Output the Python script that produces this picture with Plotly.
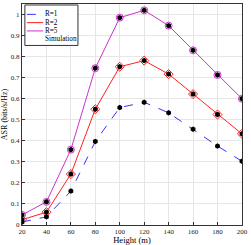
import plotly.graph_objects as go

heights = [20, 40, 60, 80, 100, 120, 140, 160, 180, 200]
asr_r1 = [0.014, 0.039, 0.161, 0.397, 0.558, 0.583, 0.533, 0.455, 0.375, 0.303]
asr_r2 = [0.025, 0.061, 0.242, 0.550, 0.752, 0.781, 0.717, 0.622, 0.525, 0.433]
asr_r5 = [0.048, 0.110, 0.358, 0.745, 0.985, 1.020, 0.947, 0.830, 0.713, 0.600]
sim_x = heights * 3
sim_y = asr_r1 + asr_r2 + asr_r5
y_ticks = [0, 0.1, 0.2, 0.3, 0.4, 0.5, 0.6, 0.7, 0.8, 0.9, 1.0]
y_ticktext = ["0", "0.1", "0.2", "0.3", "0.4", "0.5", "0.6", "0.7", "0.8", "0.9", "1"]
legend_names = ["R=1", "R=2", "R=5", "Simulation"]

font = "Liberation Serif"
c1, c2, c5 = "#3333ff", "#ff2020", "#cc33cc"
fig = go.Figure()
fig.add_trace(go.Scatter(x=heights, y=asr_r1, mode="lines", name="R=1", showlegend=False,
                         line=dict(color=c1, width=1, dash="dash")))
fig.add_trace(go.Scatter(x=heights, y=asr_r2, mode="lines+markers", name="R=2", showlegend=False,
                         line=dict(color=c2, width=1),
                         marker=dict(symbol="diamond-open", size=7, color=c2, line=dict(width=1))))
fig.add_trace(go.Scatter(x=heights, y=asr_r5, mode="lines+markers", name="R=5", showlegend=False,
                         line=dict(color=c5, width=1),
                         marker=dict(symbol="circle-open", size=7, color=c5, line=dict(width=1))))
fig.add_trace(go.Scatter(x=sim_x, y=sim_y, mode="markers", name="Simulation", showlegend=False,
                         marker=dict(symbol="hexagon", size=5.5, color="black")))

# ---- custom compact legend (plot-area pixel coordinates on an overlay axis) ----
ent_y = [10.5, 18.9, 27.3, 35.7]
lx0, lx1, tx = 5, 22, 23
shapes = [dict(type="rect", xref="x2", yref="y2", x0=3, x1=58, y0=1, y1=42,
               line=dict(color="#333333", width=1), fillcolor="white", layer="above")]
styles = [(c1, "dash"), (c2, "solid"), (c5, "solid")]
for yy, (col, dash) in zip(ent_y[:3], styles):
    shapes.append(dict(type="line", xref="x2", yref="y2", x0=lx0, x1=lx1, y0=yy, y1=yy,
                       line=dict(color=col, width=1, dash=dash), layer="above"))
fig.update_layout(shapes=shapes)
mx = (lx0 + lx1) / 2
fig.add_trace(go.Scatter(x=[mx], y=[ent_y[1]], xaxis="x2", yaxis="y2", mode="markers", showlegend=False,
                         marker=dict(symbol="diamond-open", size=6, color=c2, line=dict(width=1)), hoverinfo="skip"))
fig.add_trace(go.Scatter(x=[mx], y=[ent_y[2]], xaxis="x2", yaxis="y2", mode="markers", showlegend=False,
                         marker=dict(symbol="circle-open", size=6, color=c5, line=dict(width=1)), hoverinfo="skip"))
fig.add_trace(go.Scatter(x=[mx], y=[ent_y[3]], xaxis="x2", yaxis="y2", mode="markers", showlegend=False,
                         marker=dict(symbol="hexagon", size=5.5, color="black"), hoverinfo="skip"))
for yy, name in zip(ent_y, legend_names):
    fig.add_annotation(x=tx, y=yy, xref="x2", yref="y2", text=name, showarrow=False, borderpad=0,
                       xanchor="left", yanchor="middle", font=dict(family=font, size=7.2, color="#000000"))

axis_common = dict(showgrid=True, gridcolor="#e6e6e6", gridwidth=1, zeroline=False,
                   showline=True, linecolor="#333333", linewidth=1, mirror=True,
                   ticks="inside", ticklen=3, tickcolor="#333333",
                   tickfont=dict(family=font, size=7, color="#222222"))
fig.update_xaxes(range=[20, 200.05], tickmode="array", tickvals=heights, ticklabeloverflow="allow",
                 title=dict(text="Height (m)", font=dict(family=font, size=8.5, color="#000000"), standoff=0),
                 **axis_common)
fig.update_yaxes(range=[0, 1.05], tickmode="array", tickvals=y_ticks, ticktext=y_ticktext,
                 title=dict(text="ASR (bits/s/Hz)", font=dict(family=font, size=8, color="#000000"), standoff=2),
                 **axis_common)
fig.update_layout(width=251, height=245, margin=dict(l=20, r=3, t=3, b=18),
                  paper_bgcolor="white", plot_bgcolor="white", showlegend=False,
                  xaxis2=dict(overlaying="x", range=[0, 228], visible=False, fixedrange=True),
                  yaxis2=dict(overlaying="y", range=[224, 0], visible=False, fixedrange=True))
fig.write_html("out.html", config={"displayModeBar": False, "staticPlot": True},
               post_script="document.body.style.margin='0';document.body.style.overflow='hidden';")
